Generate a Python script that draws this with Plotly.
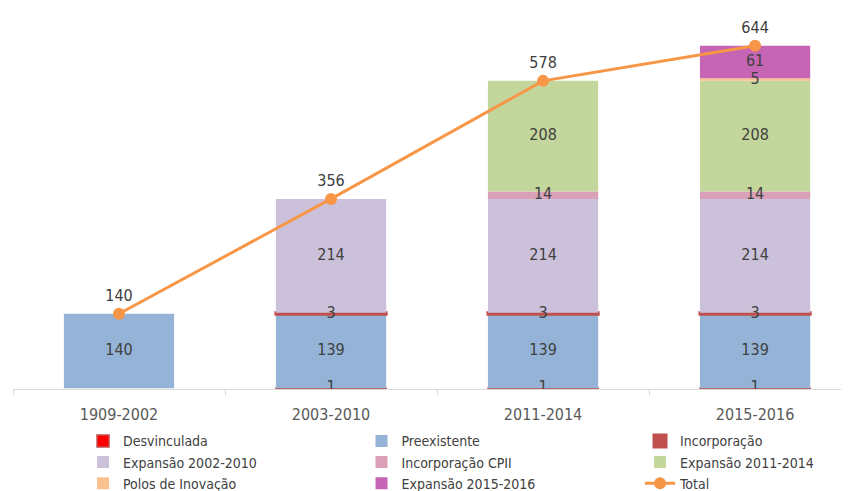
import plotly.graph_objects as go

categories = ["1909-2002", "2003-2010", "2011-2014", "2015-2016"]

desvinculada = [None, -1, -1, -1]
preexistente = [140, 139, 139, 139]
incorporacao = [None, 3, 3, 3]
expansao_2002_2010 = [None, 214, 214, 214]
incorporacao_cpii = [None, None, 14, 14]
expansao_2011_2014 = [None, None, 208, 208]
polos_inovacao = [None, None, None, 5]
expansao_2015_2016 = [None, None, None, 61]
total = [140, 356, 578, 644]

series = [
    ("Desvinculada", desvinculada, "#FF0000"),
    ("Preexistente", preexistente, "#95B3D7"),
    ("Incorporação", incorporacao, "#C0504D"),
    ("Expansão 2002-2010", expansao_2002_2010, "#CCC1DA"),
    ("Incorporação CPII", incorporacao_cpii, "#D9A0B8"),
    ("Expansão 2011-2014", expansao_2011_2014, "#C3D69B"),
    ("Polos de Inovação", polos_inovacao, "#FAC090"),
    ("Expansão 2015-2016", expansao_2015_2016, "#C565B3"),
]

FONT = "DejaVu Sans Condensed, Liberation Sans Narrow, sans-serif"

fig = go.Figure()
for name, vals, color in series:
    lw = {"Desvinculada": 1.5, "Incorporação": 3}.get(name, 0)
    fig.add_trace(go.Bar(
        name=name, x=categories, y=vals,
        marker=dict(color=color, line=dict(color="#C0504D" if lw else color, width=lw)),
        hoverinfo="skip",
    ))

# value labels drawn on top of all bars (stacked segment centres)
lab_x, lab_y, lab_t = [], [], []
pos_base = [0.0] * len(categories)
neg_base = [0.0] * len(categories)
for name, vals, color in series:
    for i, v in enumerate(vals):
        if v is None:
            continue
        if v >= 0:
            mid = pos_base[i] + v / 2
            pos_base[i] += v
        else:
            mid = neg_base[i] + v / 2
            neg_base[i] += v
        lab_x.append(categories[i])
        lab_y.append(mid)
        lab_t.append(str(abs(v)))

fig.add_trace(go.Scatter(
    x=lab_x, y=lab_y, text=lab_t, mode="text", showlegend=False,
    textposition="middle center", hoverinfo="skip",
    textfont=dict(family=FONT, size=16, color="#404040"),
))

fig.add_trace(go.Scatter(
    name="Total", x=categories, y=total, mode="lines+markers+text",
    line=dict(color="#F79646", width=3),
    marker=dict(color="#F79646", size=12),
    text=[str(v) for v in total], textposition="top center",
    textfont=dict(family=FONT, size=16, color="#404040"),
))

fig.update_layout(
    width=841, height=483,
    barmode="relative", bargap=0.48,
    plot_bgcolor="white", paper_bgcolor="white",
    margin=dict(l=5, r=0, t=8, b=102, autoexpand=False),
    font=dict(family=FONT, size=15, color="#595959"),
    xaxis=dict(range=[-0.5, 3.443], showline=True, linecolor="#D9D9D9", linewidth=1,
               ticks="outside", tickson="boundaries", tickcolor="#D9D9D9", ticklen=5,
               ticklabelstandoff=11,
               tickfont=dict(family=FONT, size=16, color="#595959"), showgrid=False),
    yaxis=dict(range=[-1.5, 700], visible=False, showgrid=False, zeroline=False),
    legend=dict(orientation="h", xref="container", yref="container",
                x=0.0892, y=0.136, xanchor="left", yanchor="top",
                entrywidth=233.5, entrywidthmode="pixels",
                font=dict(family=FONT, size=14, color="#404040"),
                tracegroupgap=0, traceorder="normal"),
    showlegend=True,
)

fig.write_html("out.html")
